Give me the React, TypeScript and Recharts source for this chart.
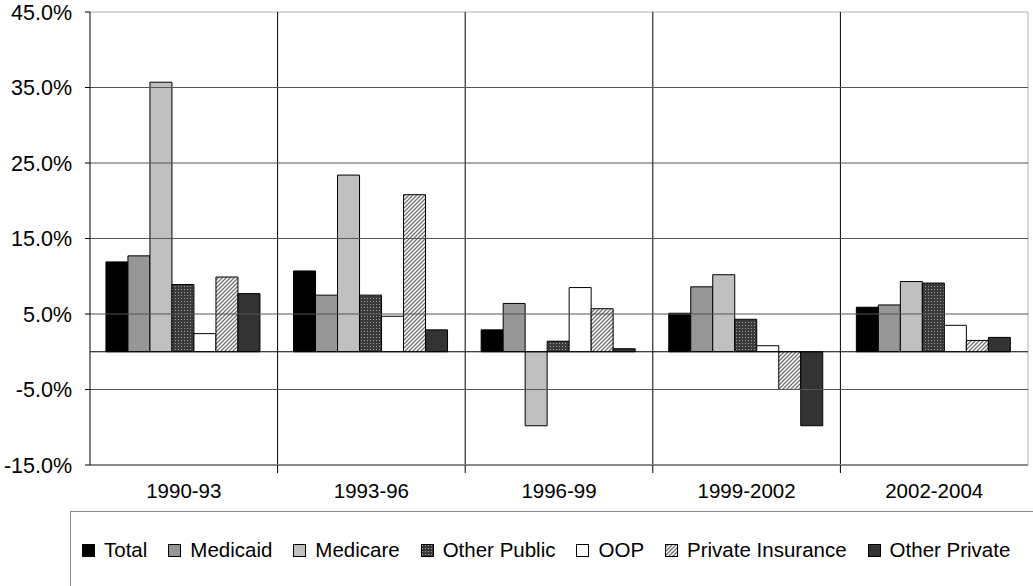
import React from "react";
import {
  BarChart,
  Bar,
  XAxis,
  YAxis,
  CartesianGrid,
  ReferenceLine,
} from "recharts";

const categories = ["1990-93", "1993-96", "1996-99", "1999-2002", "2002-2004"];
const total = [11.9, 10.7, 2.9, 5.1, 5.9];
const medicaid = [12.7, 7.5, 6.4, 8.6, 6.2];
const medicare = [35.7, 23.4, -9.8, 10.2, 9.3];
const otherPublic = [8.9, 7.5, 1.4, 4.3, 9.1];
const oop = [2.4, 4.7, 8.5, 0.8, 3.5];
const privateInsurance = [9.9, 20.8, 5.7, -5.0, 1.5];
const otherPrivate = [7.7, 2.9, 0.4, -9.8, 1.9];

const yTicks = [-15, -5, 5, 15, 25, 35, 45];
const innerGridValues = [-5, 5, 15, 25, 35];

const series = [
  { key: "Total", values: total, fill: "#000000" },
  { key: "Medicaid", values: medicaid, fill: "#969696" },
  { key: "Medicare", values: medicare, fill: "#c0c0c0" },
  { key: "Other Public", values: otherPublic, fill: "url(#dotPattern)" },
  { key: "OOP", values: oop, fill: "#ffffff" },
  { key: "Private Insurance", values: privateInsurance, fill: "url(#hatchPattern)" },
  { key: "Other Private", values: otherPrivate, fill: "#333333" },
];

const data = categories.map((c, i) => {
  const row: Record<string, any> = { name: c };
  series.forEach((s) => {
    row[s.key] = s.values[i];
  });
  return row;
});

const FONT = "'Liberation Sans', Arial, sans-serif";
const X_TICK_MARGIN = 18;

function LegendSwatch({ fill }: { fill: string }) {
  return (
    <svg width={13} height={13} style={{ display: "block" }}>
      <defs>
        <pattern id="lgDot" width="3" height="3" patternUnits="userSpaceOnUse">
          <rect width="3" height="3" fill="#3a3a3a" />
          <rect x="1" y="1" width="1" height="1" fill="#a0a0a0" />
        </pattern>
        <pattern id="lgHatch" width="4" height="4" patternUnits="userSpaceOnUse">
          <rect width="4" height="4" fill="#ffffff" />
          <path d="M-1,1 l2,-2 M0,4 l4,-4 M3,5 l2,-2" stroke="#707070" strokeWidth="1.3" />
        </pattern>
      </defs>
      <rect
        x={0.5}
        y={0.5}
        width={12}
        height={12}
        fill={
          fill === "url(#dotPattern)"
            ? "url(#lgDot)"
            : fill === "url(#hatchPattern)"
            ? "url(#lgHatch)"
            : fill
        }
        stroke="#000"
        strokeWidth={1}
      />
    </svg>
  );
}

function XTick(props: any) {
  const { x, y, payload, width, visibleTicksCount, index } = props;
  const band = width / (visibleTicksCount || categories.length);
  const axisY = y - X_TICK_MARGIN;
  return (
    <g>
      {index < categories.length - 1 && (
        <line x1={x + band / 2} x2={x + band / 2} y1={axisY} y2={axisY + 8} stroke="#000" />
      )}
      <text
        x={x}
        y={y}
        dy="0.71em"
        textAnchor="middle"
        fill="#000"
        fontSize={20.5}
        fontFamily={FONT}
      >
        {payload.value}
      </text>
    </g>
  );
}

export default function App() {
  return (
    <div
      style={{
        position: "absolute",
        left: 0,
        top: 0,
        width: 1033,
        height: 586,
        overflow: "hidden",
        background: "#fff",
        fontFamily: FONT,
      }}
    >
      <BarChart
        width={1033}
        height={586}
        data={data}
        margin={{ top: 12, right: 5, left: 0, bottom: 81 }}
        barCategoryGap="8.5%"
        barGap={0}
      >
        <defs>
          <pattern id="dotPattern" width="3" height="3" patternUnits="userSpaceOnUse">
            <rect width="3" height="3" fill="#3a3a3a" />
            <rect x="1" y="1" width="1" height="1" fill="#a0a0a0" />
          </pattern>
          <pattern id="hatchPattern" width="4" height="4" patternUnits="userSpaceOnUse">
            <rect width="4" height="4" fill="#ffffff" />
            <path d="M-1,1 l2,-2 M0,4 l4,-4 M3,5 l2,-2" stroke="#707070" strokeWidth="1.3" />
          </pattern>
        </defs>
        {/* plot border top and right */}
        <CartesianGrid
          stroke="#b0b0b0"
          vertical={true}
          horizontal={true}
          verticalCoordinatesGenerator={({ offset }: any) => [offset.left + offset.width]}
          horizontalCoordinatesGenerator={({ offset }: any) => [offset.top]}
        />
        {/* vertical separators between categories */}
        <CartesianGrid
          stroke="#000"
          horizontal={false}
          vertical={true}
          verticalCoordinatesGenerator={({ offset }: any) =>
            categories.slice(1).map((_, i) => offset.left + ((i + 1) * offset.width) / categories.length)
          }
        />
        {innerGridValues.map((v) => (
          <ReferenceLine key={v} y={v} stroke="#555" strokeWidth={1} />
        ))}
        <XAxis
          dataKey="name"
          height={40}
          tickLine={false}
          tickSize={0}
          tickMargin={X_TICK_MARGIN}
          axisLine={{ stroke: "#8a8a8a", strokeWidth: 2 }}
          tick={<XTick />}
          interval={0}
        />
        <YAxis
          width={90}
          domain={[-15, 45]}
          ticks={yTicks}
          allowDataOverflow
          tickSize={5}
          tickMargin={13}
          tickLine={{ stroke: "#000" }}
          axisLine={{ stroke: "#000" }}
          tick={{ fill: "#000", fontSize: 21.5, fontFamily: FONT }}
          tickFormatter={(v: number) => v.toFixed(1) + "%"}
        />
        {series.map((s) => (
          <Bar
            key={s.key}
            dataKey={s.key}
            fill={s.fill}
            stroke="#000"
            strokeWidth={1}
            isAnimationActive={false}
          />
        ))}
        <ReferenceLine y={0} stroke="#000" strokeWidth={1} />
      </BarChart>
      <div
        style={{
          position: "absolute",
          left: 70,
          top: 511,
          width: 1000,
          height: 120,
          border: "1px solid #8a8a8a",
          boxSizing: "border-box",
        }}
      >
        <div
          style={{
            position: "absolute",
            left: 11,
            top: 26,
            display: "flex",
            alignItems: "center",
            whiteSpace: "nowrap",
            fontSize: 20.5,
            lineHeight: "24px",
            color: "#000",
          }}
        >
          {series.map((s) => (
            <div
              key={s.key}
              style={{ display: "flex", alignItems: "center", marginRight: 21 }}
            >
              <LegendSwatch fill={s.fill} />
              <span style={{ marginLeft: 9 }}>{s.key}</span>
            </div>
          ))}
        </div>
      </div>
    </div>
  );
}
